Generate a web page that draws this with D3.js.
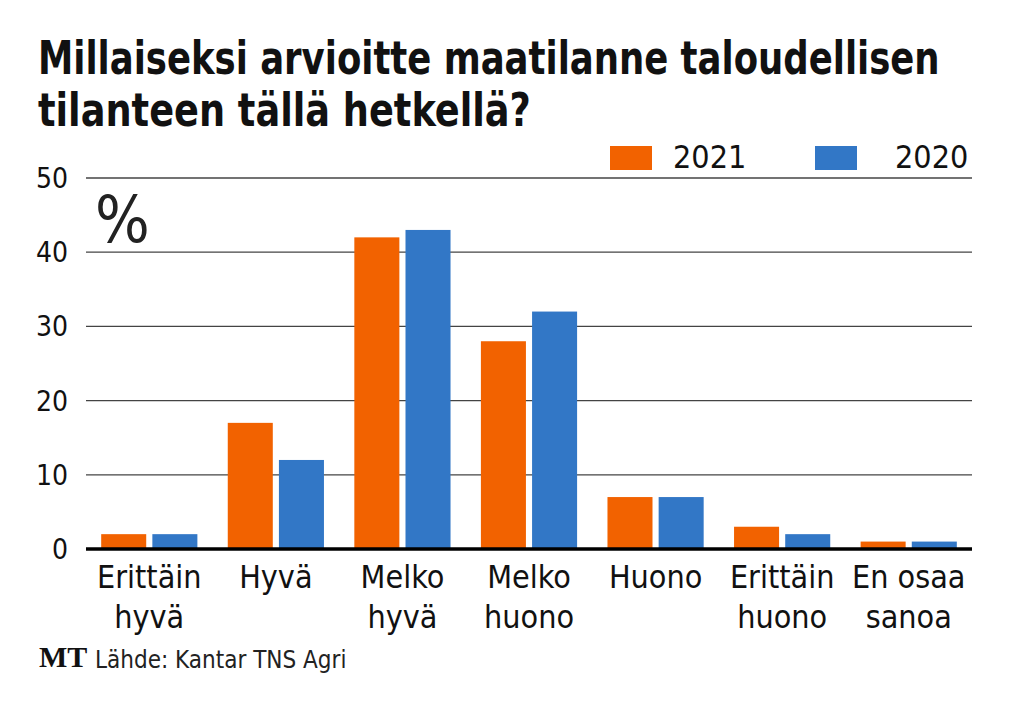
<!DOCTYPE html>
<html><head><meta charset="utf-8">
<script src="https://cdn.jsdelivr.net/npm/d3@7"></script>
<style>body{margin:0;background:#fff}svg{display:block}</style>
</head><body>
<script>
const categories = [["Erittäin","hyvä"],["Hyvä"],["Melko","hyvä"],["Melko","huono"],["Huono"],["Erittäin","huono"],["En osaa","sanoa"]];
const seriesNames = ["2021","2020"];
const values2021 = [2,17,42,28,7,3,1];
const values2020 = [2,12,43,32,7,2,1];
const yTicks = [0,10,20,30,40,50];
const titleLines = ["Millaiseksi arvioitte maatilanne taloudellisen","tilanteen tällä hetkellä?"];
const colors = ["#f26200","#3277c6"];

const W=1019,H=702;
const svg=d3.select("body").append("svg").attr("width",W).attr("height",H);
const m={l:86,r:972,t:178,b:549};
const x=d3.scaleBand().domain(d3.range(categories.length)).range([m.l,m.r]).paddingInner(0.24).paddingOuter(0.12);
const xs=d3.scaleBand().domain(seriesNames).range([0,x.bandwidth()]).paddingInner(0.12);
const y=d3.scaleLinear().domain([0,50]).range([m.b,m.t]);
const condensed="'DejaVu Sans Condensed','DejaVu Sans',sans-serif";
const sans="'DejaVu Sans Condensed','Open Sans',sans-serif";

// title: fit line widths by horizontal scaling
const titleW=[902,493], titleY=[74,126];
titleLines.forEach((t,i)=>{
  const txt=svg.append("text").attr("x",0).attr("y",0).attr("font-family",condensed).attr("font-weight","bold").attr("font-size",46).attr("fill","#111").text(t);
  const w=txt.node().getComputedTextLength();
  txt.attr("transform",`translate(38,${titleY[i]}) scale(${titleW[i]/w},1)`);
});

// grid
svg.append("g").selectAll("line").data(yTicks.filter(d=>d>0)).join("line")
 .attr("x1",m.l).attr("x2",m.r).attr("y1",d=>y(d)).attr("y2",d=>y(d)).attr("stroke","#444").attr("stroke-width",1.3);
svg.append("g").selectAll("text").data(yTicks).join("text")
 .attr("x",68).attr("y",d=>y(d)+10).attr("text-anchor","end").attr("font-family",sans).attr("font-size",28).attr("fill","#111").text(d=>d);

// percent
svg.append("text").attr("x",95).attr("y",242).attr("font-family",sans).attr("font-size",64).attr("fill","#222").text("%");

// bars
const data=[values2021,values2020];
const g=svg.append("g");
categories.forEach((c,i)=>{
  seriesNames.forEach((s,j)=>{
    const v=data[j][i];
    g.append("rect").attr("x",x(i)+xs(s)).attr("y",y(v)).attr("width",xs.bandwidth()).attr("height",y(0)-y(v)).attr("fill",colors[j]);
  });
});
// baseline
svg.append("line").attr("x1",m.l).attr("x2",m.r).attr("y1",y(0)).attr("y2",y(0)).attr("stroke","#000").attr("stroke-width",3.5);

// category labels
const lab=svg.append("g").attr("font-family",sans).attr("font-size",32).attr("fill","#111").attr("text-anchor","middle");
categories.forEach((c,i)=>{
  c.forEach((t,k)=>{
    lab.append("text").attr("x",x(i)+x.bandwidth()/2).attr("y",588+k*40).text(t);
  });
});

// legend
const legX=[610,815], legTX=[673,895];
seriesNames.forEach((s,j)=>{
  svg.append("rect").attr("x",legX[j]).attr("y",146).attr("width",42).attr("height",24).attr("fill",colors[j]);
  svg.append("text").attr("x",legTX[j]).attr("y",168).attr("font-family",sans).attr("font-size",32).attr("fill","#111").text(s);
});

// footer
svg.append("text").attr("x",39).attr("y",667).attr("font-family","'Liberation Serif','DejaVu Serif',serif").attr("font-weight","bold").attr("font-size",30).attr("fill","#111").text("MT");
svg.append("text").attr("x",95).attr("y",668).attr("font-family",sans).attr("font-size",24).attr("fill","#222").text("Lähde: Kantar TNS Agri");
</script>
</body></html>
